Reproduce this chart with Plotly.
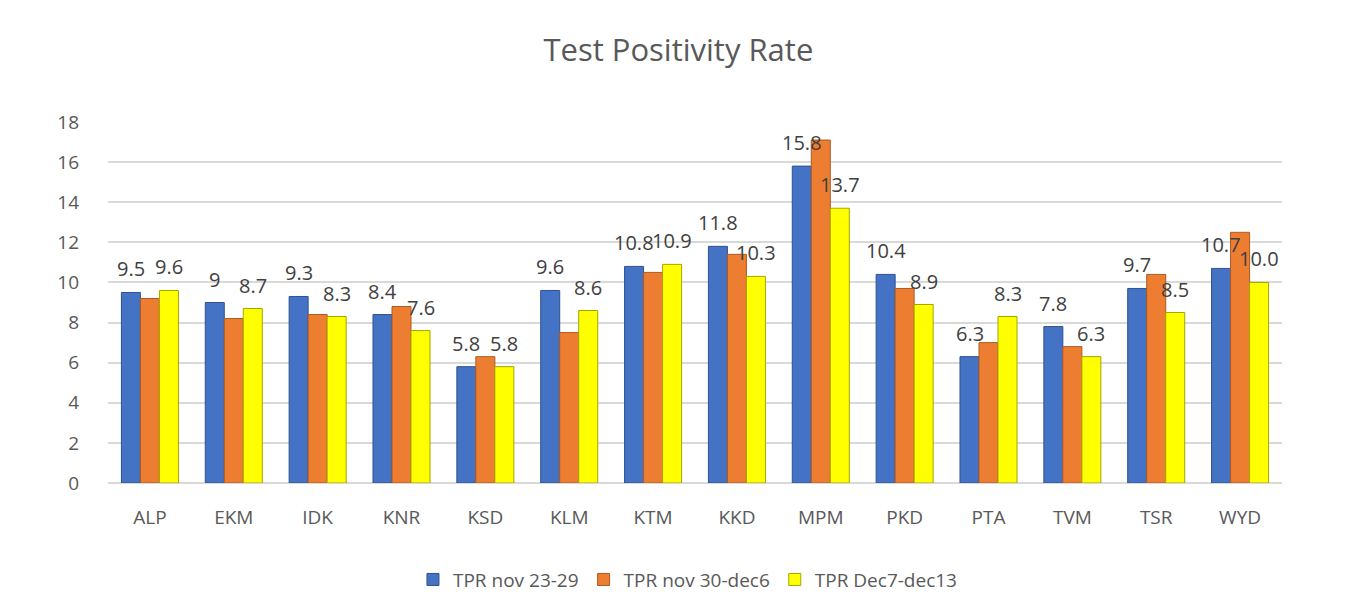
import plotly.graph_objects as go

districts = ["ALP", "EKM", "IDK", "KNR", "KSD", "KLM", "KTM", "KKD", "MPM", "PKD", "PTA", "TVM", "TSR", "WYD"]
series_names = ["TPR nov 23-29", "TPR nov 30-dec6", "TPR Dec7-dec13"]
tpr_nov23_29 = [9.5, 9.0, 9.3, 8.4, 5.8, 9.6, 10.8, 11.8, 15.8, 10.4, 6.3, 7.8, 9.7, 10.7]
tpr_nov30_dec6 = [9.2, 8.2, 8.4, 8.8, 6.3, 7.5, 10.5, 11.4, 17.1, 9.7, 7.0, 6.8, 10.4, 12.5]
tpr_dec7_dec13 = [9.6, 8.7, 8.3, 7.6, 5.8, 8.6, 10.9, 10.3, 13.7, 8.9, 8.3, 6.3, 8.5, 10.0]
labels_nov23_29 = ["9.5", "9", "9.3", "8.4", "5.8", "9.6", "10.8", "11.8", "15.8", "10.4", "6.3", "7.8", "9.7", "10.7"]
labels_dec7_dec13 = ["9.6", "8.7", "8.3", "7.6", "5.8", "8.6", "10.9", "10.3", "13.7", "8.9", "8.3", "6.3", "8.5", "10.0"]
y_ticks = [0, 2, 4, 6, 8, 10, 12, 14, 16, 18]

colors = ["#4472C4", "#ED7D31", "#FFFF00"]
edge = ["#2F528F", "#AE5A21", "#A5A500"]
font = "Open Sans, Liberation Sans, sans-serif"
text_color = "#404040"

fig = go.Figure()
for name, vals, c, e in zip(series_names, [tpr_nov23_29, tpr_nov30_dec6, tpr_dec7_dec13], colors, edge):
    fig.add_trace(go.Bar(name=name, x=districts, y=vals,
                         marker=dict(color=c, line=dict(color=e, width=1)), cliponaxis=False))

# data labels for series 1 and 3, drawn on top of all bars
bar_px = 19
annotations = []
for labels, vals, shift in [(labels_nov23_29, tpr_nov23_29, -bar_px), (labels_dec7_dec13, tpr_dec7_dec13, bar_px)]:
    for d, v, t in zip(districts, vals, labels):
        annotations.append(dict(x=d, y=v, xref="x", yref="y", text=t, showarrow=False,
                                xshift=shift, yshift=8, yanchor="bottom", xanchor="center",
                                font=dict(size=20, color=text_color, family=font)))

fig.update_layout(
    width=1357, height=610,
    barmode="group", bargap=0.32, bargroupgap=0.0,
    paper_bgcolor="white", plot_bgcolor="white",
    font=dict(family=font, color="#595959", size=19),
    title=dict(text="Test Positivity Rate", x=0.494, xanchor="center", y=0.931, yanchor="middle",
               font=dict(size=31, color="#595959", family=font)),
    margin=dict(l=100, r=83, t=114, b=135),
    legend=dict(orientation="h", x=0.494, xanchor="center", y=-0.215, yanchor="top",
                font=dict(size=19, color="#595959"), itemwidth=30, traceorder="normal"),
    xaxis=dict(showgrid=False, showline=False, ticks="", ticklabelstandoff=21,
               tickfont=dict(size=19, color="#595959")),
    yaxis=dict(range=[0, 18], tickvals=y_ticks, showgrid=True, gridcolor="#D9D9D9", gridwidth=2,
               zeroline=True, zerolinecolor="#D9D9D9", zerolinewidth=2,
               showline=False, ticks="", ticklabelstandoff=28,
               tickfont=dict(size=19, color="#595959")),
    annotations=annotations,
)

fig.write_html("out.html")
